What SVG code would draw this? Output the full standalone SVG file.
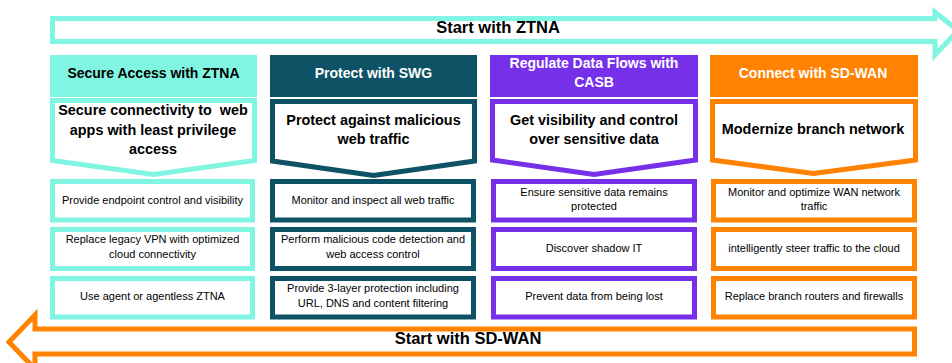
<svg xmlns="http://www.w3.org/2000/svg" width="952" height="363" viewBox="0 0 952 363">
<style>
  .bg{fill:#ffffff}
  .teal{stroke:#80F5E1}
  .dark{stroke:#0D5265}
  .purple{stroke:#7630EA}
  .orange{stroke:#FF8300}
  .box{fill:#ffffff;stroke-width:5;stroke-linejoin:miter}
  .hdr-teal{fill:#80F5E1}
  .hdr-dark{fill:#0D5265}
  .hdr-purple{fill:#7630EA}
  .hdr-orange{fill:#FF8300}
  .banner{font-family:"Liberation Sans",Arial,sans-serif;font-weight:bold;font-size:16.5px;fill:#000;text-anchor:middle}
  .head{font-family:"Liberation Sans",Arial,sans-serif;font-weight:bold;font-size:14px;text-anchor:middle}
  .chev{font-family:"Liberation Sans",Arial,sans-serif;font-weight:bold;font-size:14.4px;fill:#000;text-anchor:middle}
  .det{font-family:"Liberation Sans",Arial,sans-serif;font-size:11px;fill:#000;text-anchor:middle}
</style>
<rect x="0" y="0" width="952" height="363" fill="#ffffff"/>

<g id="connectors">
  <g id="start-ztna">
    <polygon class="box teal" points="52.5,18.5 935,18.5 935,12 958,30.5 935,55 935,41.5 52.5,41.5"/>
    <text class="banner" x="498" y="33">Start with ZTNA</text>
  </g>
  <g id="start-sdwan">
    <polygon class="box orange" points="914.5,329 35,329 35,315 9,342 35,369 35,354 914.5,354"/>
    <text class="banner" x="468" y="344">Start with SD-WAN</text>
  </g>
</g>

<g id="col-ztna">
  <rect class="hdr-teal" x="50" y="55" width="207" height="42"/>
  <text class="head" x="153.5" y="78" fill="#000">Secure Access with ZTNA</text>
  <polygon class="box teal" points="52.5,100.5 254.5,100.5 254.5,160.5 153.5,174.5 52.5,160.5"/>
  <text class="chev" x="153" y="115" xml:space="preserve">Secure connectivity to  web</text>
  <text class="chev" x="153" y="134.5">apps with least privilege</text>
  <text class="chev" x="153" y="153.5">access</text>
  <rect class="box teal" x="52.5" y="181.5" width="200" height="38.5"/>
  <text class="det" x="152.5" y="203.5">Provide endpoint control and visibility</text>
  <rect class="box teal" x="52.5" y="229.5" width="200" height="39"/>
  <text class="det" x="152.5" y="243">Replace legacy VPN with optimized</text>
  <text class="det" x="152.5" y="257.5">cloud connectivity</text>
  <rect class="box teal" x="52.5" y="278.5" width="200" height="38.5"/>
  <text class="det" x="152.5" y="299.5">Use agent or agentless ZTNA</text>
</g>

<g id="col-swg">
  <rect class="hdr-dark" x="270" y="55" width="207" height="42"/>
  <text class="head" x="373.5" y="78" fill="#fff">Protect with SWG</text>
  <polygon class="box dark" points="272.5,101.5 474.5,101.5 474.5,161 373.5,175.5 272.5,161"/>
  <text class="chev" x="373.5" y="124.5">Protect against malicious</text>
  <text class="chev" x="373.5" y="143.5">web traffic</text>
  <rect class="box dark" x="272.5" y="181.5" width="201" height="38.5"/>
  <text class="det" x="373" y="203.5">Monitor and inspect all web traffic</text>
  <rect class="box dark" x="272.5" y="229.5" width="201" height="39"/>
  <text class="det" x="373" y="243">Perform malicious code detection and</text>
  <text class="det" x="373" y="257.5">web access control</text>
  <rect class="box dark" x="272.5" y="278.5" width="201" height="38.5"/>
  <text class="det" x="373" y="292">Provide 3-layer protection including</text>
  <text class="det" x="373" y="306.5">URL, DNS and content filtering</text>
</g>

<g id="col-casb">
  <rect class="hdr-purple" x="490" y="55" width="208" height="42"/>
  <text class="head" x="594" y="68" fill="#fff">Regulate Data Flows with</text>
  <text class="head" x="594" y="87" fill="#fff">CASB</text>
  <polygon class="box purple" points="492.5,101.5 695.5,101.5 695.5,160 594,174.5 492.5,160"/>
  <text class="chev" x="594" y="124.5">Get visibility and control</text>
  <text class="chev" x="594" y="143.5">over sensitive data</text>
  <rect class="box purple" x="493.5" y="181.5" width="201" height="38.5"/>
  <text class="det" x="594" y="196">Ensure sensitive data remains</text>
  <text class="det" x="594" y="210">protected</text>
  <rect class="box purple" x="493.5" y="229.5" width="201" height="39"/>
  <text class="det" x="594" y="251.5">Discover shadow IT</text>
  <rect class="box purple" x="493.5" y="278.5" width="201" height="38.5"/>
  <text class="det" x="594" y="299.5">Prevent data from being lost</text>
</g>

<g id="col-sdwan">
  <rect class="hdr-orange" x="710" y="55" width="208" height="42"/>
  <text class="head" x="813" y="78" fill="#fff">Connect with SD-WAN</text>
  <polygon class="box orange" points="712.5,101.5 915.5,101.5 915.5,160 813.5,173.5 712.5,160"/>
  <text class="chev" x="813" y="133.5">Modernize branch network</text>
  <rect class="box orange" x="713.5" y="181.5" width="201" height="38.5"/>
  <text class="det" x="814" y="196">Monitor and optimize WAN network</text>
  <text class="det" x="814" y="210">traffic</text>
  <rect class="box orange" x="713.5" y="229.5" width="201" height="39"/>
  <text class="det" x="814" y="251.5">intelligently steer traffic to the cloud</text>
  <rect class="box orange" x="713.5" y="278.5" width="201" height="38.5"/>
  <text class="det" x="814" y="299.5">Replace branch routers and firewalls</text>
</g>
</svg>
